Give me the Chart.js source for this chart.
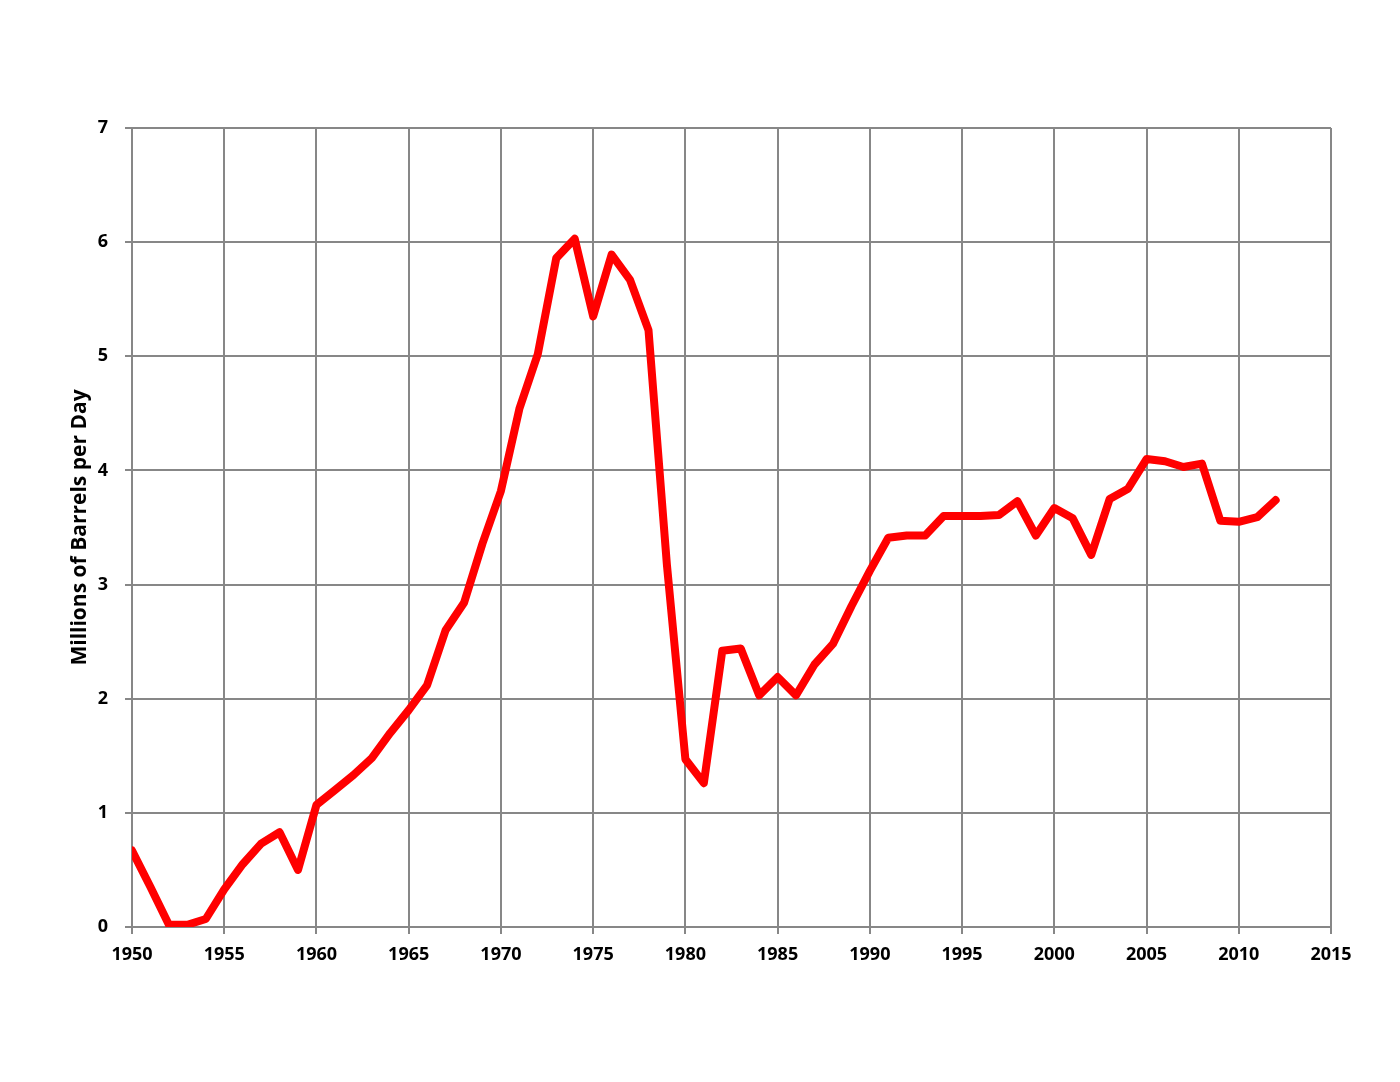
<!DOCTYPE html>
<html>
<head>
<meta charset="utf-8">
<script src="https://cdn.jsdelivr.net/npm/chart.js@4.4.1/dist/chart.umd.min.js"></script>
<style>
html,body{margin:0;padding:0;background:#fff;}
#wrap{width:1400px;height:1082px;position:relative;}
</style>
</head>
<body>
<div id="wrap"><canvas id="c"></canvas></div>
<script>
const years = [1950,1951,1952,1953,1954,1955,1956,1957,1958,1959,
  1960,1961,1962,1963,1964,1965,1966,1967,1968,1969,
  1970,1971,1972,1973,1974,1975,1976,1977,1978,1979,
  1980,1981,1982,1983,1984,1985,1986,1987,1988,1989,
  1990,1991,1992,1993,1994,1995,1996,1997,1998,1999,
  2000,2001,2002,2003,2004,2005,2006,2007,2008,2009,
  2010,2011,2012];
const production = [0.67,0.35,0.02,0.02,0.07,0.33,0.55,0.73,0.83,0.50,
  1.07,1.20,1.33,1.48,1.70,1.90,2.12,2.60,2.84,3.36,
  3.82,4.54,5.02,5.86,6.03,5.35,5.89,5.67,5.23,3.17,
  1.47,1.26,2.42,2.44,2.03,2.19,2.03,2.30,2.48,2.81,
  3.12,3.41,3.43,3.43,3.60,3.60,3.60,3.61,3.73,3.43,
  3.67,3.58,3.26,3.75,3.84,4.10,4.08,4.03,4.06,3.56,
  3.55,3.59,3.74];
const xTicks = [1950,1955,1960,1965,1970,1975,1980,1985,1990,1995,2000,2005,2010,2015];
const yTicks = [0,1,2,3,4,5,6,7];
const yTitle = 'Millions of Barrels per Day';

const gridColor = '#878787';
const tickFont = {family: "'Open Sans', sans-serif", size: 18, weight: 'bold'};

new Chart(document.getElementById('c'), {
  type: 'line',
  data: {
    datasets: [{
      data: years.map((y, i) => ({x: y, y: production[i]})),
      borderColor: '#ff0000',
      borderWidth: 8,
      pointRadius: 0,
      tension: 0,
      borderJoinStyle: 'round',
      borderCapStyle: 'round',
      fill: false
    }]
  },
  options: {
    responsive: true,
    maintainAspectRatio: false,
    animation: false,
    devicePixelRatio: 1,
    layout: {padding: {top: 128, right: 69, left: 0, bottom: 0}},
    plugins: {legend: {display: false}, tooltip: {enabled: false}},
    scales: {
      x: {
        type: 'linear',
        min: xTicks[0],
        max: xTicks[xTicks.length - 1],
        afterBuildTicks: s => { s.ticks = xTicks.map(v => ({value: v})); },
        afterFit: s => { s.height = 155; },
        grid: {color: gridColor, lineWidth: 2, tickLength: 7, drawTicks: true},
        border: {color: gridColor, width: 2},
        ticks: {color: '#000', font: tickFont, padding: 10, maxRotation: 0,
                callback: v => String(v)}
      },
      y: {
        type: 'linear',
        min: 0,
        max: 7,
        afterBuildTicks: s => { s.ticks = yTicks.map(v => ({value: v})); },
        afterFit: s => { s.width = 132; },
        grid: {color: gridColor, lineWidth: 2, tickLength: 7, drawTicks: true},
        border: {color: gridColor, width: 2},
        ticks: {color: '#000', font: tickFont, padding: 17,
                callback: v => String(v)},
        title: {display: true, text: yTitle, color: '#000',
                font: {family: "'Open Sans', sans-serif", size: 21, weight: 'bold'},
                padding: {top: 67, bottom: 0}}
      }
    }
  }
});
</script>
</body>
</html>
